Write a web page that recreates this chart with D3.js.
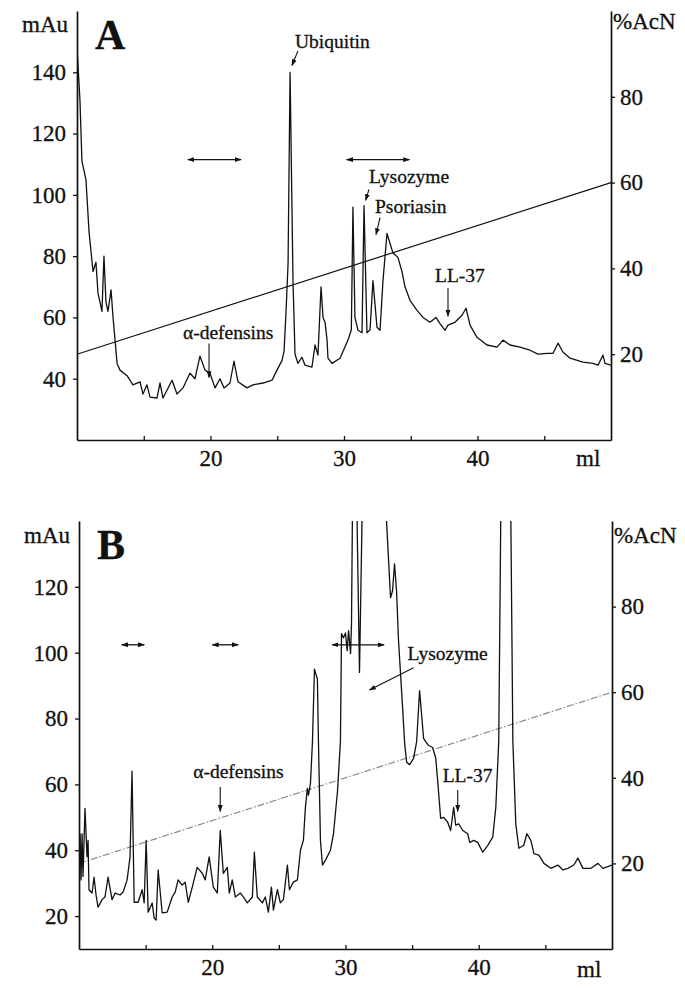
<!DOCTYPE html>
<html>
<head>
  <meta charset="utf-8">
  <title>RP-HPLC chromatograms</title>
  <style>
    body { margin: 0; background: #fff; }
    svg text { font-family: "Liberation Serif", "Times New Roman", serif; fill: #111; stroke: #111; stroke-width: 0.3px; }
  </style>
</head>
<body>
  <div id="chart"></div>

  <script src="https://cdn.jsdelivr.net/npm/d3@7/dist/d3.min.js"></script>
  <script>

    // ---- data ----
    const mlDomain = [10, 50];
    const mlMinorTicks = [15, 20, 25, 30, 35, 40, 45];
    const mlLabels = [20, 30, 40];
    const acnDomain = [0, 100];
    const acnTicks = [20, 40, 60, 80];
    const mAuDomainA = [20, 160];
    const mAuTicksA = [40, 60, 80, 100, 120, 140];
    const mAuDomainB = [10, 140];
    const mAuTicksB = [20, 40, 60, 80, 100, 120];

    // acetonitrile gradient (same in both runs)
    const gradientMl = [10, 50];
    const gradientAcN = [20, 60];

    // panel A trace
    const traceA_ml = [10.00, 10.22, 10.37, 10.67, 10.82, 10.90, 11.20, 11.42, 11.57, 11.87, 12.02, 12.17, 12.32, 12.55, 12.70, 12.85,
      13.00, 13.22, 13.75, 14.19, 14.72, 14.94, 15.24, 15.47, 15.99, 16.22, 16.44, 17.12, 17.49, 17.94, 18.46, 18.84,
      19.21, 19.59, 19.96, 20.34, 20.71, 21.01, 21.46, 21.76, 22.06, 22.73, 23.18, 23.93, 24.61, 24.98, 25.36, 25.51,
      25.66, 25.81, 25.96, 26.18, 26.33, 26.55, 26.85, 27.08, 27.60, 27.83, 28.05, 28.28, 28.43, 28.58, 28.73, 28.80,
      29.10, 29.70, 30.30, 30.55, 30.67, 30.82, 31.05, 31.35, 31.50, 31.72, 31.95, 32.17, 32.47, 32.70, 32.92, 33.22,
      33.67, 34.04, 34.34, 34.57, 34.94, 35.47, 35.92, 36.44, 36.89, 37.19, 37.57, 37.79, 38.31, 38.84, 39.14, 39.44,
      39.96, 40.71, 41.46, 41.91, 42.43, 43.18, 43.93, 44.53, 45.21, 45.66, 46.03, 46.40, 46.93, 47.90, 48.65, 49.03,
      49.40, 49.55, 50.00];
    const traceA_mAu = [148, 131, 111, 105, 94, 88, 75, 78, 68, 62, 80, 65, 62, 69, 60, 52.6,
      45, 42.8, 41, 38, 39, 35, 38, 34, 33.7, 38.6, 33.7, 39.5, 35, 37, 41.8, 40,
      47.4, 42.8, 41.8, 37, 40, 37, 38.6, 45.7, 39, 37, 38, 38.6, 39.5, 42.8, 46, 49,
      62, 77.6, 140, 72, 48, 45, 47, 44.4, 43.8, 51, 47.7, 70, 60, 58.4, 52.6, 46.7,
      45, 46.7, 52.6, 56, 96, 60, 55.8, 55, 96.5, 55, 56, 72, 56.8, 55.8, 72, 87.4,
      81, 79.6, 75, 70, 65.6, 62.3, 60, 58.4, 60, 58, 55.8, 57.5, 58.4, 60.7, 63, 57.5,
      53.5, 51, 50.3, 52.6, 51, 50.3, 49.3, 48, 48.3, 48.3, 51.6, 48.7, 46.7, 45.4, 45, 44.4,
      47.7, 45, 44.4];

    // panel B trace (values above 140 run off the top of the frame)
    const traceB_ml = [10.08, 10.15, 10.23, 10.30, 10.45, 10.60, 10.68, 10.75, 10.98, 11.13, 11.28, 11.43, 11.73, 11.95, 12.18, 12.48,
      12.71, 13.08, 13.31, 13.61, 13.83, 13.98, 14.14, 14.44, 14.74, 14.89, 15.04, 15.19, 15.49, 15.64, 15.79, 15.94,
      16.24, 16.62, 16.99, 17.22, 17.44, 17.74, 17.97, 18.20, 18.50, 18.87, 19.25, 19.47, 19.77, 20.08, 20.38, 20.60,
      20.83, 21.13, 21.28, 21.50, 21.73, 22.11, 22.33, 22.63, 23.01, 23.16, 23.38, 23.76, 23.98, 24.21, 24.44, 24.59,
      24.89, 25.11, 25.34, 25.64, 25.79, 26.09, 26.39, 26.62, 26.84, 26.99, 27.14, 27.22, 27.37, 27.52, 27.67, 27.89,
      27.97, 28.12, 28.27, 28.50, 28.87, 29.10, 29.40, 29.62, 29.70, 29.85, 30.00, 30.12, 30.23, 30.38, 30.45, 30.62,
      30.83, 31.05, 31.28, 31.60, 32.40, 33.08, 33.38, 33.53, 33.68, 33.83, 33.98, 34.29, 34.44, 34.59, 34.81, 35.11,
      35.34, 35.56, 35.86, 36.02, 36.24, 36.54, 36.77, 36.92, 37.14, 37.37, 37.67, 37.89, 38.12, 38.27, 38.50, 38.80,
      39.17, 39.32, 39.62, 39.92, 40.30, 40.68, 41.05, 41.28, 41.50, 41.65, 42.03, 42.41, 42.56, 42.78, 43.01, 43.38,
      43.61, 43.91, 44.14, 44.51, 44.89, 45.41, 45.94, 46.32, 46.69, 47.14, 47.44, 47.82, 48.42, 48.95, 49.32, 50.00];
    const traceB_mAu = [45, 31, 45, 32, 52.7, 38, 43, 28, 27, 31.8, 26.4, 22.7, 25, 25.8, 31.8, 25,
      27, 26.4, 27.3, 31, 38, 64, 24.2, 24.2, 28, 24, 43, 21.2, 24, 19.4, 18.8, 34,
      21, 21.2, 25.8, 27.3, 31, 29.4, 30.3, 24.2, 28.8, 34.8, 33, 31, 38, 28.8, 27, 46,
      33, 34.8, 27, 31, 25.8, 27, 25.8, 24, 25.8, 39.4, 25.8, 24, 25.8, 21.2, 28.8, 21.8,
      28, 24, 25, 35.5, 28, 30.3, 31, 40, 43, 53, 58.8, 56.7, 60.3, 73, 95, 92,
      73, 43, 35.5, 37, 40, 45, 58, 73, 105.8, 104.5, 106, 100.6, 106.7, 99.7, 108.8, 190,
      150, 94, 150, 195, 190, 140, 116.7, 118.8, 127, 118.8, 103.6, 83, 72.4, 66.7, 66, 67.9,
      73, 88.5, 74, 73, 71.8, 71.2, 68, 61, 49.7, 50, 48.5, 46, 53, 47.6, 48, 46,
      45, 42.4, 43, 42.4, 39.4, 41.5, 44, 53, 73, 140, 210, 140, 73, 48, 40.6, 41.5,
      45, 43, 39, 38.5, 36, 34.5, 35.5, 34, 34.5, 35.5, 37.6, 34.5, 34.5, 36, 34.5, 35.5];

    // annotation names
    const labelsA = ['Ubiquitin', 'Lysozyme', 'Psoriasin', 'α-defensins', 'LL-37'];
    const labelsB = ['α-defensins', 'Lysozyme', 'LL-37'];
    // collected fractions (ml ranges)
    const fractionsA = [[18.3, 22.3], [30.2, 34.9]];
    const fractionsB = [[13.2, 14.9], [20.0, 21.95], [29.0, 32.9]];

    function translate(x, y) {
      return 'translate(' + x + ',' + y + ')';
    }

    // ---- layout ----
    let panels = [
      {
        letter: 'A', left: 77, right: 611, top: 11, bottom: 440,
        mAuDomain: mAuDomainA, mAuTicks: mAuTicksA,
        ml: traceA_ml, mAu: traceA_mAu,
        gradStroke: '#111', gradDash: null,
        fracLevel: 111.5, fractions: fractionsA,
        // text anchor (ml, mAu) and arrow from -> to
        notes: [
          { t: labelsA[0], at: [26.33, 147.9], from: [26.55, 147.0], to: [26.10, 142.2] },
          { t: labelsA[1], at: [31.87, 103.9], from: [31.87, 101.8], to: [31.62, 98.2] },
          { t: labelsA[2], at: [32.32, 94.1], from: [32.70, 92.6], to: [32.40, 87.0] },
          { t: labelsA[3], at: [17.94, 53.0], from: [19.89, 51.5], to: [19.89, 40.4] },
          { t: labelsA[4], at: [36.82, 71.6], from: [37.79, 69.6], to: [37.79, 60.4] }
        ]
      },
      {
        letter: 'B', left: 79, right: 612, top: 521, bottom: 949,
        mAuDomain: mAuDomainB, mAuTicks: mAuTicksB,
        ml: traceB_ml, mAu: traceB_mAu,
        gradStroke: '#8a8a8a', gradDash: '7,2,1.5,2',
        fracLevel: 102.4, fractions: fractionsB,
        notes: [
          { t: labelsB[0], at: [18.57, 61.9], from: [20.60, 59.2], to: [20.60, 51.8] },
          { t: labelsB[1], at: [34.66, 97.8], from: [35.11, 95.4], to: [31.80, 88.7] },
          { t: labelsB[2], at: [37.29, 60.7], from: [38.42, 58.3], to: [38.42, 51.8] }
        ]
      }
    ];

    let svg = d3.select('#chart')
      .append('svg')
        .attr('width', 685)
        .attr('height', 990);

    let defs = svg.append('defs');
    defs.append('marker')
        .attr('id', 'head')
        .attr('viewBox', '0 0 10 10')
        .attr('refX', 9).attr('refY', 5)
        .attr('markerWidth', 7).attr('markerHeight', 7)
        .attr('markerUnits', 'userSpaceOnUse')
        .attr('orient', 'auto-start-reverse')
      .append('path')
        .attr('d', 'M0,1.5L10,5L0,8.5Z')
        .attr('fill', '#111');

    panels.forEach(function (p, i) {
      let x = d3.scaleLinear().domain(mlDomain).range([p.left, p.right]);
      let y = d3.scaleLinear().domain(p.mAuDomain).range([p.bottom, p.top]);
      let yR = d3.scaleLinear().domain(acnDomain).range([p.bottom, p.top]);

      let g = svg.append('g');

      defs.append('clipPath').attr('id', 'clip' + i)
        .append('rect')
          .attr('x', p.left).attr('y', p.top)
          .attr('width', p.right - p.left).attr('height', p.bottom - p.top);

      // gradient line
      g.append('line')
        .attr('x1', x(gradientMl[0])).attr('y1', yR(gradientAcN[0]))
        .attr('x2', x(gradientMl[1])).attr('y2', yR(gradientAcN[1]))
        .attr('stroke', p.gradStroke)
        .attr('stroke-width', 1.2)
        .attr('stroke-dasharray', p.gradDash);

      // chromatogram
      let line = d3.line()
        .x(d => x(d[0]))
        .y(d => y(d[1]));
      g.append('path')
        .datum(d3.zip(p.ml, p.mAu))
        .attr('clip-path', 'url(#clip' + i + ')')
        .attr('d', line)
        .attr('fill', 'none')
        .attr('stroke', '#111')
        .attr('stroke-width', 1.3)
        .attr('stroke-linejoin', 'round');

      // axes
      let xAxis = d3.axisBottom(x)
        .tickValues(mlMinorTicks)
        .tickSizeInner(-4).tickSizeOuter(0).tickPadding(10)
        .tickFormat(d => mlLabels.includes(d) ? d : '');
      let yAxis = d3.axisLeft(y)
        .tickValues(p.mAuTicks)
        .tickSizeInner(4).tickSizeOuter(0).tickPadding(7);
      let rAxis = d3.axisRight(yR)
        .tickValues(acnTicks)
        .tickSizeInner(4).tickSizeOuter(0).tickPadding(5);

      [[xAxis, translate(0, p.bottom)], [yAxis, translate(p.left, 0)], [rAxis, translate(p.right, 0)]]
        .forEach(function (a) {
          let ax = g.append('g')
            .attr('transform', a[1])
            .call(a[0]);
          ax.attr('font-size', 23).attr('font-family', null);
          ax.select('.domain').attr('stroke', '#111').attr('stroke-width', 1.7);
          ax.selectAll('.tick line').attr('stroke', '#111').attr('stroke-width', 1.3);
        });

      // axis titles and panel letter
      g.append('text')
        .attr('x', p.left - 9).attr('y', p.top + 21 + (i ? 1 : 0))
        .attr('text-anchor', 'end')
        .attr('font-size', 23)
        .text('mAu');
      g.append('text')
        .attr('x', p.right + 2).attr('y', p.top + 18 + (i ? 4 : 0))
        .attr('font-size', 23)
        .text('%AcN');
      g.append('text')
        .attr('x', p.right - 35).attr('y', p.bottom + 26 + (i ? 2 : 0))
        .attr('font-size', 23)
        .text('ml');
      g.append('text')
        .attr('x', p.left + 18).attr('y', p.top + 38)
        .attr('font-size', 42)
        .attr('font-weight', 'bold')
        .text(p.letter);

      // fraction arrows
      g.selectAll('.frac')
        .data(p.fractions)
        .enter()
          .append('line')
          .attr('x1', d => x(d[0])).attr('x2', d => x(d[1]))
          .attr('y1', y(p.fracLevel)).attr('y2', y(p.fracLevel))
          .attr('stroke', '#111').attr('stroke-width', 1.3)
          .attr('marker-start', 'url(#head)')
          .attr('marker-end', 'url(#head)');

      // peak labels
      p.notes.forEach(function (n) {
        g.append('text')
          .attr('x', x(n.at[0])).attr('y', y(n.at[1]))
          .attr('font-size', 19.5)
          .text(n.t);
        g.append('line')
          .attr('x1', x(n.from[0])).attr('y1', y(n.from[1]))
          .attr('x2', x(n.to[0])).attr('y2', y(n.to[1]))
          .attr('stroke', '#111').attr('stroke-width', 1.1)
          .attr('marker-end', 'url(#head)');
      });
    });

  </script>
</body>
</html>
